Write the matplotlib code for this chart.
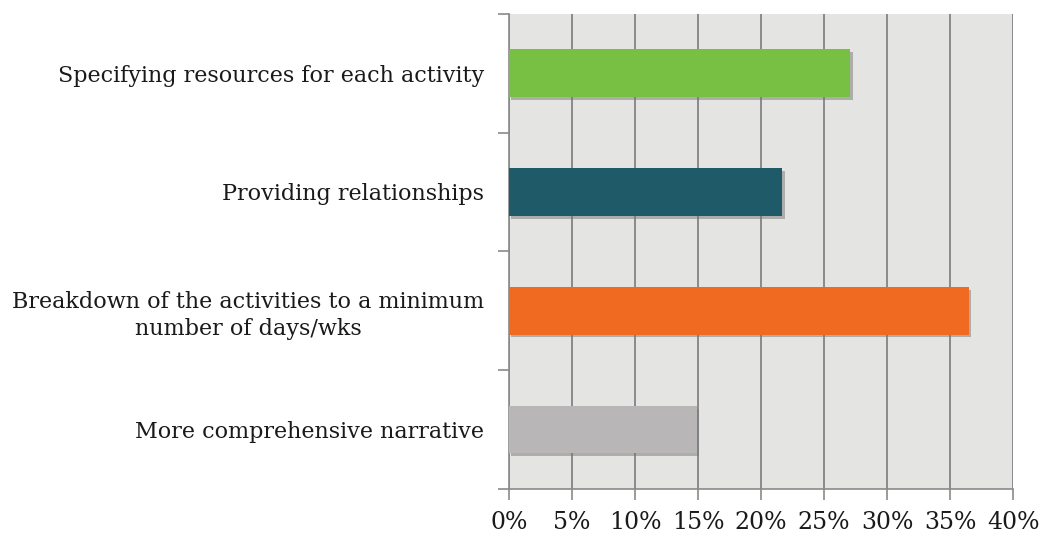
import matplotlib.pyplot as plt
import matplotlib.patheffects as pe
from matplotlib.ticker import FixedLocator, PercentFormatter

categories = ['Specifying resources for each activity',
              'Providing relationships',
              'Breakdown of the activities to a minimum\nnumber of days/wks',
              'More comprehensive narrative']
values = [27.1, 21.7, 36.5, 14.9]
colors = ['#77c043', '#1f5a69', '#f06a22', '#b8b6b6']
xticks = [0, 5, 10, 15, 20, 25, 30, 35, 40]

plt.rcParams['font.family'] = ['DejaVu Serif']

fig = plt.figure(figsize=(10.42, 5.37), dpi=100)
ax = fig.add_axes([0.4885, 0.0894, 0.4837, 0.885])
ax.set_facecolor('#e4e4e2')

ypos = list(range(len(categories)))
bars = ax.barh(ypos, values, height=0.4, color=colors, zorder=3)
for b in bars:
    b.set_path_effects([pe.SimplePatchShadow(offset=(1.5, -2), shadow_rgbFace='#777777', alpha=0.5),
                        pe.Normal()])

ax.set_xlim(0, 40)
ax.set_ylim(len(categories) - 0.5, -0.5)
ax.set_xticks(xticks)
ax.xaxis.set_major_formatter(PercentFormatter(decimals=0))
ax.grid(axis='x', color='#8a8a8a', linewidth=1.4, zorder=1)

# band boundaries as major ticks, category names on minor ticks
ax.yaxis.set_major_locator(FixedLocator([i - 0.5 for i in range(len(categories) + 1)]))
ax.yaxis.set_major_formatter(plt.NullFormatter())
ax.yaxis.set_minor_locator(FixedLocator(ypos))
ax.set_yticklabels(categories, minor=True, fontsize=16, ha='right',
                   multialignment='center', linespacing=1.3, color='#1a1a1a')
ax.tick_params(axis='y', which='minor', length=0, pad=18)
ax.tick_params(axis='y', which='major', length=8, width=1.2, color='#8a8a8a')
ax.tick_params(axis='x', length=8, width=1.2, color='#8a8a8a', labelsize=17,
               labelcolor='#1a1a1a', pad=8)

for s in ['top', 'right']:
    ax.spines[s].set_visible(False)
for s in ['left', 'bottom']:
    ax.spines[s].set_color('#8a8a8a')
    ax.spines[s].set_linewidth(1.2)

fig.savefig('out.png', dpi=100)
